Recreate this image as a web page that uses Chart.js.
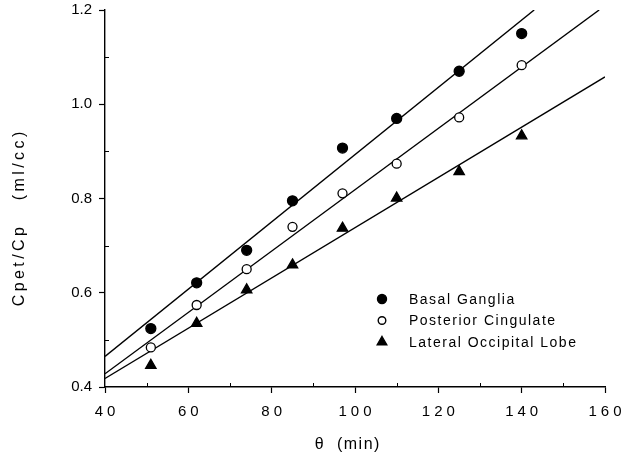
<!DOCTYPE html>
<html lang="en">
<head>
  <meta charset="UTF-8">
  <title>Cpet/Cp vs theta</title>
  <script src="https://cdn.jsdelivr.net/npm/chart.js"></script>
  <style>
    body { margin: 0; background: #fff; }
    #wrap { width: 643px; height: 456px; }
  </style>
</head>
<body>
  <div id="wrap"><canvas id="plot" width="643" height="456"></canvas></div>
  <script>
    // measured points (theta in min)
    const thetaValues = [51, 62, 74, 85, 97, 110, 125, 140];
    const basalGanglia = [0.524, 0.621, 0.69, 0.795, 0.907, 0.97, 1.07, 1.15];
    const posteriorCingulate = [0.484, 0.574, 0.65, 0.74, 0.811, 0.874, 0.972, 1.083];
    const lateralOccipital = [0.446, 0.535, 0.606, 0.659, 0.737, 0.801, 0.857, 0.933];

    // regression lines, start and end
    const basalFitX = [40, 143];
    const basalFitY = [0.465, 1.2];
    const posteriorFitX = [40, 158.6];
    const posteriorFitY = [0.428, 1.2];
    const lateralFitX = [40, 160];
    const lateralFitY = [0.418, 1.058];

    const seriesNames = ['Basal Ganglia', 'Posterior Cingulate', 'Lateral Occipital Lobe'];
    const xTicks = [40, 60, 80, 100, 120, 140, 160];
    const yTicks = [0.4, 0.6, 0.8, 1.0, 1.2];
    const xTitle = 'θ  (min)';
    const yTitle = 'Cpet/Cp   (ml/cc)';

    const toPoints = (xs, ys) => xs.map((x, i) => ({ x: x, y: ys[i] }));
    const FONT = '"Liberation Sans", Arial, sans-serif';

    const pointSet = (label, ys, style, fill, radius) => ({
      label: label,
      data: toPoints(thetaValues, ys),
      showLine: false,
      pointStyle: style,
      pointRadius: radius,
      pointBackgroundColor: fill,
      pointBorderColor: '#000',
      pointBorderWidth: 1.3
    });

    const lineSet = (xs, ys) => ({
      label: '',
      data: toPoints(xs, ys),
      showLine: true,
      borderColor: '#000',
      borderWidth: 1.4,
      pointRadius: 0,
      fill: false
    });

    function spacedText(ctx, text, x, y, spacing) {
      ctx.letterSpacing = spacing + 'px';
      ctx.fillText(text, x + (ctx.textAlign === 'center' ? spacing / 2 : 0), y);
      ctx.letterSpacing = '0px';
    }

    // short inner minor ticks, spaced x labels, axis titles
    const axisExtras = {
      id: 'axisExtras',
      afterDraw(chart) {
        const { ctx, scales: { x, y }, chartArea } = chart;
        ctx.save();
        ctx.strokeStyle = '#000';
        ctx.lineWidth = 1;
        for (let v = 50; v < 160; v += 20) {
          const px = Math.round(x.getPixelForValue(v)) + 0.5;
          ctx.beginPath();
          ctx.moveTo(px, chartArea.bottom);
          ctx.lineTo(px, chartArea.bottom - 4);
          ctx.stroke();
        }
        for (let v = 0.5; v < 1.2; v += 0.2) {
          const py = Math.round(y.getPixelForValue(v)) + 0.5;
          ctx.beginPath();
          ctx.moveTo(chartArea.left, py);
          ctx.lineTo(chartArea.left + 4, py);
          ctx.stroke();
        }

        ctx.fillStyle = '#000';
        ctx.font = '15px ' + FONT;
        ctx.textAlign = 'center';
        ctx.textBaseline = 'middle';
        xTicks.forEach(v => spacedText(ctx, String(v), x.getPixelForValue(v), 412, 4));

        ctx.font = '16px ' + FONT;
        spacedText(ctx, xTitle, 347, 445, 1.5);

        ctx.save();
        ctx.translate(20, 219);
        ctx.rotate(-Math.PI / 2);
        spacedText(ctx, yTitle, 0, 0, 3.4);
        ctx.restore();
        ctx.restore();
      }
    };

    // legend inside the plot
    const innerLegend = {
      id: 'innerLegend',
      afterDraw(chart) {
        const { ctx } = chart;
        const radii = [4.5, 3.8, 5.5];
        ctx.save();
        ctx.font = '14px ' + FONT;
        ctx.textBaseline = 'middle';
        ctx.textAlign = 'left';
        for (let i = 0; i < 3; i++) {
          const ds = chart.data.datasets[i];
          const yy = 299 + i * 21.5;
          ctx.fillStyle = ds.pointBackgroundColor;
          ctx.strokeStyle = '#000';
          ctx.lineWidth = 1.4;
          Chart.helpers.drawPoint(ctx, {
            pointStyle: ds.pointStyle,
            radius: radii[i],
            borderWidth: 1.4
          }, 382, yy);
          ctx.fillStyle = '#000';
          spacedText(ctx, ds.label, 409, yy + 1, 1.5);
        }
        ctx.restore();
      }
    };

    new Chart(document.getElementById('plot').getContext('2d'), {
      type: 'scatter',
      data: {
        datasets: [
          pointSet(seriesNames[0], basalGanglia, 'circle', '#000', 5),
          pointSet(seriesNames[1], posteriorCingulate, 'circle', '#fff', 4.5),
          pointSet(seriesNames[2], lateralOccipital, 'triangle', '#000', 6),
          lineSet(basalFitX, basalFitY),
          lineSet(posteriorFitX, posteriorFitY),
          lineSet(lateralFitX, lateralFitY)
        ]
      },
      options: {
        responsive: false,
        animation: false,
        layout: { padding: { left: 10, right: 38, top: 10, bottom: 0 } },
        plugins: {
          legend: { display: false },
          tooltip: { enabled: false }
        },
        scales: {
          x: {
            type: 'linear',
            min: 40,
            max: 160,
            afterBuildTicks: (s) => { s.ticks = xTicks.map(v => ({ value: v })); },
            afterFit: (s) => { s.height = 69; s.paddingLeft = 0; s.paddingRight = 0; },
            border: { display: true, color: '#000', width: 1.4 },
            grid: { drawOnChartArea: false, color: '#000', tickLength: 6, tickWidth: 1.2 },
            ticks: { display: false }
          },
          y: {
            type: 'linear',
            min: 0.4,
            max: 1.2,
            afterBuildTicks: (s) => { s.ticks = yTicks.map(v => ({ value: v })); },
            afterFit: (s) => { s.width = 95; s.paddingTop = 0; s.paddingBottom = 0; },
            border: { display: true, color: '#000', width: 1.4 },
            grid: { drawOnChartArea: false, color: '#000', tickLength: 6, tickWidth: 1.2 },
            ticks: {
              color: '#000',
              font: { family: FONT, size: 15 },
              padding: 7,
              callback: (v) => v.toFixed(1)
            }
          }
        }
      },
      plugins: [axisExtras, innerLegend]
    });
  </script>
</body>
</html>
